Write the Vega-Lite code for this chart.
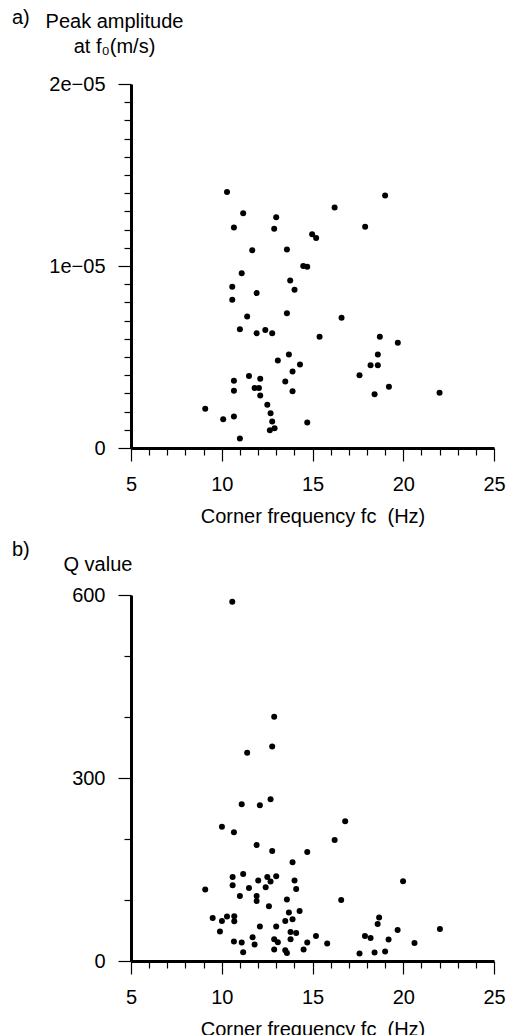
{
  "$schema": "https://vega.github.io/schema/vega-lite/v6.json",
  "padding": {"left": 12, "top": 8, "right": 0, "bottom": 0},
  "background": "white",
  "spacing": 14,
  "config": {
    "font": "Liberation Sans",
    "view": {"stroke": null},
    "axis": {
      "domainColor": "black", "domainWidth": 3, "tickColor": "black", "tickWidth": 1.2,
      "labelColor": "black", "labelFontSize": 20, "labelFont": "Liberation Sans", "labelPadding": 13,
      "labelOverlap": false, "labelFlush": false,
      "titleFont": "Liberation Sans", "titleFontSize": 20, "titleFontWeight": "normal", "titleColor": "black",
      "grid": false
    },
    "title": {"fontSize": 20, "fontWeight": "normal", "font": "Liberation Sans", "color": "black", "anchor": "start", "frame": "group"}
  },
  "datasets": {
    "a": [
      {"fc": 10.29, "amp": 1.407e-5}, {"fc": 11.18, "amp": 1.290e-5}, {"fc": 13.00, "amp": 1.268e-5},
      {"fc": 10.67, "amp": 1.211e-5}, {"fc": 12.89, "amp": 1.204e-5}, {"fc": 11.68, "amp": 1.086e-5},
      {"fc": 13.59, "amp": 1.090e-5}, {"fc": 11.10, "amp": 9.60e-6}, {"fc": 13.77, "amp": 9.21e-6},
      {"fc": 14.01, "amp": 8.70e-6}, {"fc": 10.58, "amp": 8.86e-6}, {"fc": 11.92, "amp": 8.51e-6},
      {"fc": 10.58, "amp": 8.15e-6}, {"fc": 11.40, "amp": 7.23e-6}, {"fc": 13.59, "amp": 7.40e-6},
      {"fc": 16.22, "amp": 1.321e-5}, {"fc": 19.00, "amp": 1.387e-5}, {"fc": 17.90, "amp": 1.215e-5},
      {"fc": 14.98, "amp": 1.174e-5}, {"fc": 15.20, "amp": 1.154e-5}, {"fc": 14.49, "amp": 1.000e-5},
      {"fc": 14.71, "amp": 9.96e-6}, {"fc": 16.60, "amp": 7.15e-6}, {"fc": 11.00, "amp": 6.52e-6},
      {"fc": 12.40, "amp": 6.48e-6}, {"fc": 11.92, "amp": 6.31e-6}, {"fc": 12.78, "amp": 6.31e-6},
      {"fc": 13.70, "amp": 5.14e-6}, {"fc": 13.09, "amp": 4.81e-6}, {"fc": 13.90, "amp": 4.20e-6},
      {"fc": 14.31, "amp": 4.59e-6}, {"fc": 11.50, "amp": 3.96e-6}, {"fc": 10.67, "amp": 3.69e-6},
      {"fc": 12.12, "amp": 3.80e-6}, {"fc": 13.50, "amp": 3.65e-6}, {"fc": 10.67, "amp": 3.14e-6},
      {"fc": 11.81, "amp": 3.30e-6}, {"fc": 12.05, "amp": 3.29e-6}, {"fc": 12.12, "amp": 2.88e-6},
      {"fc": 13.90, "amp": 3.12e-6}, {"fc": 9.09, "amp": 2.15e-6}, {"fc": 12.51, "amp": 2.37e-6},
      {"fc": 12.69, "amp": 1.91e-6}, {"fc": 10.08, "amp": 1.58e-6}, {"fc": 10.67, "amp": 1.73e-6},
      {"fc": 12.78, "amp": 1.45e-6}, {"fc": 12.65, "amp": 0.97e-6}, {"fc": 12.91, "amp": 1.08e-6},
      {"fc": 11.00, "amp": 0.52e-6}, {"fc": 15.39, "amp": 6.11e-6}, {"fc": 18.71, "amp": 6.11e-6},
      {"fc": 19.70, "amp": 5.78e-6}, {"fc": 18.60, "amp": 5.14e-6}, {"fc": 18.20, "amp": 4.55e-6},
      {"fc": 18.60, "amp": 4.55e-6}, {"fc": 17.59, "amp": 4.00e-6}, {"fc": 19.21, "amp": 3.36e-6},
      {"fc": 18.42, "amp": 2.96e-6}, {"fc": 22.00, "amp": 3.03e-6}, {"fc": 14.71, "amp": 1.40e-6}
    ],
    "b": [
      {"fc": 10.58, "q": 589.0}, {"fc": 12.89, "q": 400.3}, {"fc": 12.78, "q": 351.8}, {"fc": 11.40, "q": 341.3},
      {"fc": 11.10, "q": 257.1}, {"fc": 12.10, "q": 255.5}, {"fc": 12.69, "q": 265.3}, {"fc": 10.01, "q": 219.9},
      {"fc": 10.67, "q": 211.2}, {"fc": 11.92, "q": 190.3}, {"fc": 12.78, "q": 180.5}, {"fc": 13.90, "q": 161.9},
      {"fc": 10.60, "q": 137.8}, {"fc": 11.18, "q": 142.7}, {"fc": 12.01, "q": 131.9}, {"fc": 12.51, "q": 137.8},
      {"fc": 12.69, "q": 130.3}, {"fc": 13.00, "q": 139.0}, {"fc": 14.01, "q": 131.9}, {"fc": 10.60, "q": 124.2},
      {"fc": 11.50, "q": 119.8}, {"fc": 12.42, "q": 120.9}, {"fc": 14.10, "q": 118.1}, {"fc": 9.09, "q": 117.1},
      {"fc": 11.00, "q": 106.6}, {"fc": 11.92, "q": 106.6}, {"fc": 11.92, "q": 98.4}, {"fc": 13.59, "q": 100.7},
      {"fc": 12.60, "q": 89.7}, {"fc": 9.50, "q": 70.6}, {"fc": 10.01, "q": 65.6}, {"fc": 10.29, "q": 72.8},
      {"fc": 10.69, "q": 73.3}, {"fc": 10.69, "q": 65.1}, {"fc": 13.70, "q": 79.4}, {"fc": 13.50, "q": 65.6},
      {"fc": 13.90, "q": 68.4}, {"fc": 14.29, "q": 82.0}, {"fc": 9.90, "q": 48.2}, {"fc": 12.10, "q": 56.4},
      {"fc": 13.00, "q": 56.4}, {"fc": 13.79, "q": 47.6}, {"fc": 14.10, "q": 45.9}, {"fc": 13.79, "q": 35.6},
      {"fc": 10.67, "q": 31.8}, {"fc": 11.10, "q": 30.2}, {"fc": 11.70, "q": 38.9}, {"fc": 11.81, "q": 26.9},
      {"fc": 12.89, "q": 35.6}, {"fc": 13.09, "q": 30.7}, {"fc": 11.18, "q": 14.3}, {"fc": 12.89, "q": 18.7},
      {"fc": 13.50, "q": 17.6}, {"fc": 13.59, "q": 13.1}, {"fc": 16.80, "q": 229.2}, {"fc": 16.22, "q": 198.5},
      {"fc": 14.71, "q": 178.8}, {"fc": 19.99, "q": 130.8}, {"fc": 16.58, "q": 100.1}, {"fc": 18.67, "q": 71.2},
      {"fc": 18.59, "q": 60.7}, {"fc": 19.69, "q": 50.9}, {"fc": 22.02, "q": 52.5}, {"fc": 15.19, "q": 41.0},
      {"fc": 17.89, "q": 41.0}, {"fc": 18.20, "q": 37.7}, {"fc": 14.71, "q": 30.2}, {"fc": 15.81, "q": 28.5},
      {"fc": 19.19, "q": 35.1}, {"fc": 20.62, "q": 29.5}, {"fc": 14.51, "q": 18.7}, {"fc": 17.59, "q": 12.1},
      {"fc": 18.42, "q": 13.8}, {"fc": 19.00, "q": 15.4}
    ]
  },
  "vconcat": [
    {
      "title": {"text": "a)", "dx": -119, "dy": 17, "offset": 0},
      "width": 363,
      "height": 364,
      "data": {"name": "a"},
      "mark": {"type": "point", "filled": true, "color": "black", "size": 36, "opacity": 1},
      "encoding": {
        "x": {
          "field": "fc", "type": "quantitative",
          "scale": {"domain": [5, 25], "nice": false, "zero": false},
          "axis": {
            "values": [5,6,7,8,9,10,11,12,13,14,15,16,17,18,19,20,21,22,23,24,25],
            "labelExpr": "datum.value % 5 == 0 ? datum.label : ''",
            "tickSize": {"condition": {"test": "datum.value % 5 == 0", "value": 13}, "value": 7},
            "title": "Corner frequency fc\u00a0 (Hz)",
            "titlePadding": 12
          }
        },
        "y": {
          "field": "amp", "type": "quantitative",
          "scale": {"domain": [0, 2e-5], "nice": false, "zero": true},
          "axis": {
            "values": [0,1e-6,2e-6,3e-6,4e-6,5e-6,6e-6,7e-6,8e-6,9e-6,1e-5,1.1e-5,1.2e-5,1.3e-5,1.4e-5,1.5e-5,1.6e-5,1.7e-5,1.8e-5,1.9e-5,2e-5],
            "labelExpr": "datum.value == 0 ? '0' : (round(datum.value*1e6) == 10 ? '1e−05' : (round(datum.value*1e6) == 20 ? '2e−05' : ''))",
            "tickSize": {"condition": {"test": "round(datum.value*1e6) % 10 == 0", "value": 13}, "value": 7},
            "title": ["Peak amplitude", "at f₀(m/s)"],
            "titleAngle": 0,
            "titleAlign": "center",
            "titleBaseline": "alphabetic",
            "titleX": -17,
            "titleY": -57,
            "titleLineHeight": 25
          }
        }
      }
    },
    {
      "title": {"text": "b)", "dx": -119, "dy": 6, "offset": 0},
      "width": 363,
      "height": 366,
      "data": {"name": "b"},
      "mark": {"type": "point", "filled": true, "color": "black", "size": 36, "opacity": 1},
      "encoding": {
        "x": {
          "field": "fc", "type": "quantitative",
          "scale": {"domain": [5, 25], "nice": false, "zero": false},
          "axis": {
            "values": [5,6,7,8,9,10,11,12,13,14,15,16,17,18,19,20,21,22,23,24,25],
            "labelExpr": "datum.value % 5 == 0 ? datum.label : ''",
            "tickSize": {"condition": {"test": "datum.value % 5 == 0", "value": 13}, "value": 7},
            "title": "Corner frequency fc\u00a0 (Hz)",
            "titlePadding": 12
          }
        },
        "y": {
          "field": "q", "type": "quantitative",
          "scale": {"domain": [0, 600], "nice": false, "zero": true},
          "axis": {
            "values": [0,100,200,300,400,500,600],
            "labelExpr": "datum.value % 300 == 0 ? datum.label : ''",
            "tickSize": {"condition": {"test": "datum.value % 300 == 0", "value": 13}, "value": 7},
            "title": "Q value",
            "titleAngle": 0,
            "titleAlign": "left",
            "titleBaseline": "alphabetic",
            "titleX": -68,
            "titleY": -25
          }
        }
      }
    }
  ]
}
